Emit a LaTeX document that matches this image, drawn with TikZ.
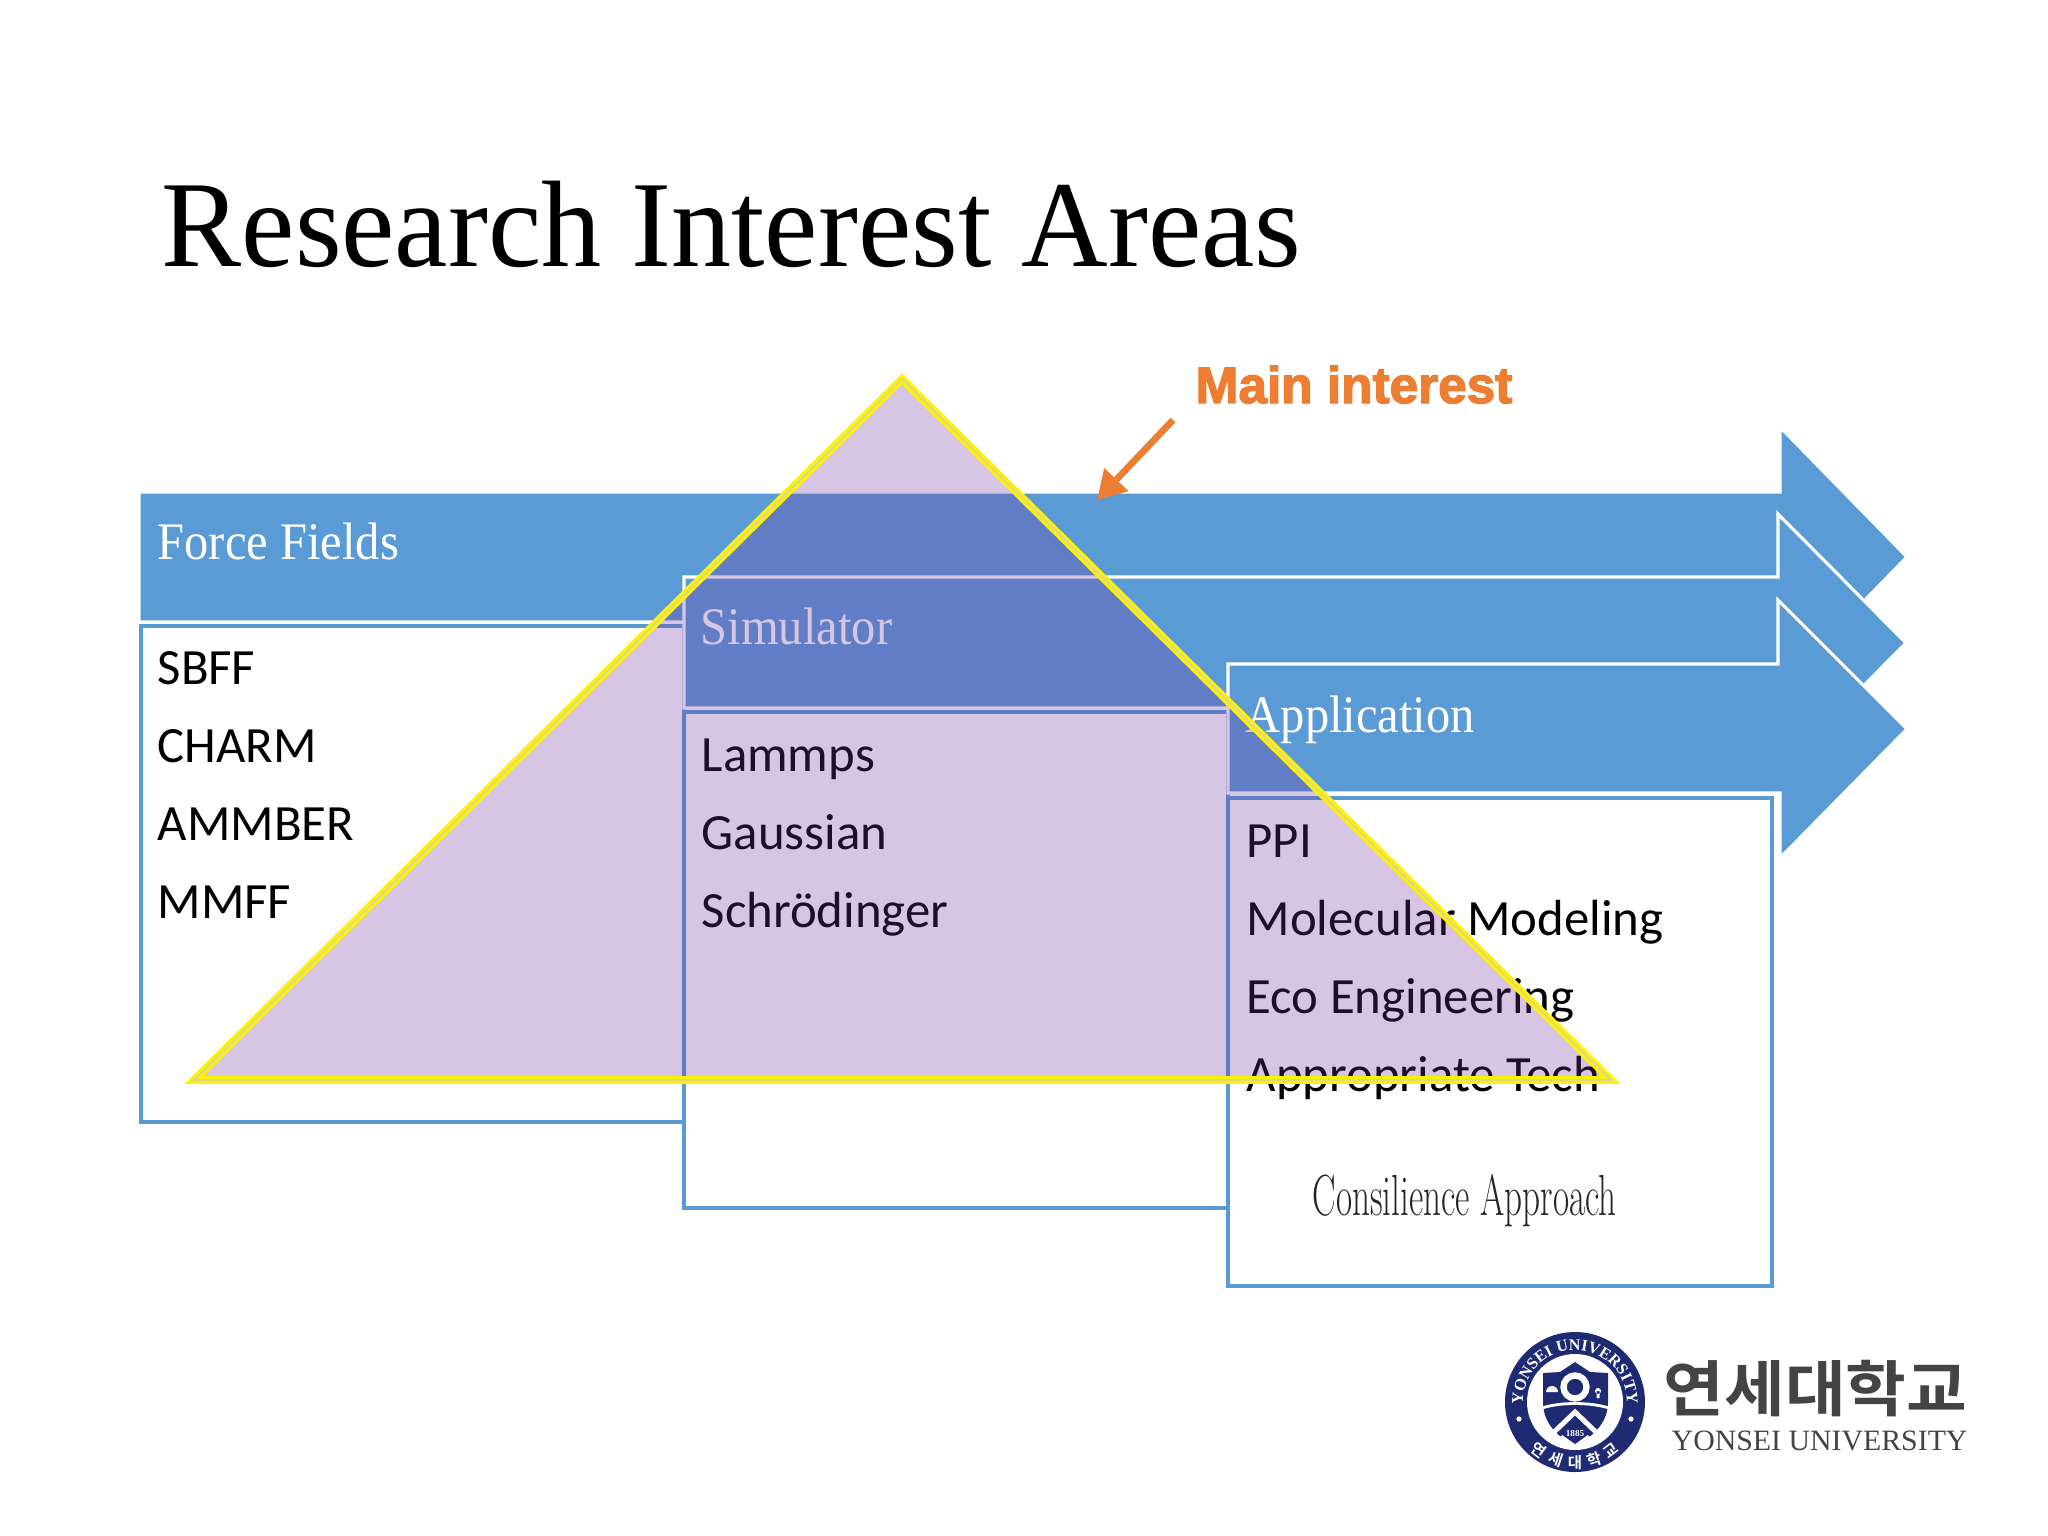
\documentclass[tikz,border=0pt]{standalone}
\usepackage{fontspec}
\usetikzlibrary{arrows.meta,decorations.text}
\setmainfont{Liberation Serif}
\newfontfamily\bodyf{Carlito}
\newfontfamily\serf{Liberation Serif}
\newfontfamily\lmf{Latin Modern Roman}
\newfontfamily\mainf[FakeBold=2.6]{Liberation Sans Bold}
\newfontfamily\krf{Noto Sans CJK KR Bold}
\newfontfamily\logof{Liberation Serif Bold}
\definecolor{arrowblue}{HTML}{5B9BD5}
\definecolor{boxline}{HTML}{5B9BD5}
\definecolor{pyr}{HTML}{7030A0}
\definecolor{mainor}{HTML}{ED7D31}
\definecolor{navy}{HTML}{1E2B73}
\definecolor{logogray}{HTML}{444444}
\definecolor{pale}{HTML}{D8D890}
\tikzset{
  bandarrow/.style={fill=arrowblue,draw=white,line width=.9pt,line join=miter},
  listbox/.style={fill=white,draw=boxline,line width=.9pt},
  headtext/.style={anchor=base west,inner sep=0pt,text=white,font=\serf\fontsize{15}{18}\selectfont},
  itemtext/.style={anchor=base west,inner sep=0pt,text=black,font=\bodyf\fontsize{14.45}{17}\selectfont},
}
\begin{document}
\begin{tikzpicture}[x=0.01cm,y=-0.01cm]
\useasboundingbox (0,0) rectangle (2048,1536);
\fill[white] (0,0) rectangle (2048,1536);
\node[anchor=base west,inner sep=0pt,text=black,font=\serf\fontsize{35}{44}\selectfont] (title) at (161,266) {\scalebox{.975}[1]{Research Interest Areas}};
% band arrows and list boxes
\draw[bandarrow] (139,492) -- (1780,492) -- (1780,427) -- (1907,557) -- (1780,687) -- (1780,622) -- (139,622) -- cycle;
\draw[listbox] (141,626) rectangle (684,1122);
\draw[bandarrow] (684,577) -- (1778,577) -- (1778,514) -- (1906,643) -- (1778,772) -- (1778,708) -- (684,708) -- cycle;
\draw[listbox] (684,712) rectangle (1228,1208);
\draw[bandarrow] (1228,664) -- (1778,664) -- (1778,600) -- (1907,729) -- (1780,858) -- (1780,793) -- (1228,793) -- cycle;
\draw[listbox] (1228,798) rectangle (1772,1286);
% texts
\node[headtext] (ff) at (157,559) {\scalebox{.92}[1]{Force Fields}};
\node[headtext] (sim) at (700,644) {\scalebox{.92}[1]{Simulator}};
\node[headtext] (app) at (1245,732) {\scalebox{.92}[1]{Application}};
\node[itemtext] (a1) at (157,684) {SBFF};
\node[itemtext] (a2) at (157,762) {CHARM};
\node[itemtext] (a3) at (157,840) {AMMBER};
\node[itemtext] (a4) at (157,918) {MMFF};
\node[itemtext] (b1) at (701,771) {Lammps};
\node[itemtext] (b2) at (701,849) {Gaussian};
\node[itemtext] (b3) at (701,927) {Schrödinger};
\node[itemtext] (c1) at (1246,857) {PPI};
\node[itemtext] (c2) at (1246,935) {Molecular Modeling};
\node[itemtext] (c3) at (1246,1013) {Eco Engineering};
\node[itemtext] (c4) at (1246,1091) {Appropriate Tech};
\node[anchor=base west,inner sep=0pt,text=black!85,font=\lmf\fontsize{16.5}{20}\selectfont] (cons) at (1312,1215) {\scalebox{.605}[1]{Consilience Approach}};
% pyramid
\fill[pyr,fill opacity=.28] (902,379) -- (194,1080) -- (1611,1080) -- cycle;
\draw[draw=yellow,line width=.85pt,double=pale,double distance=.5pt,miter limit=10] (902,379) -- (194,1080) -- (1611,1080) -- cycle;
% main interest
\node[anchor=base west,inner sep=0pt,text=mainor,font=\mainf\fontsize{14.6}{18}\selectfont] (mi) at (1195,403) {Main interest};
\coordinate (arrowstart) at (1173,420);
\coordinate (arrowend) at (1097,500);
\draw[mainor,line width=1.9pt,-{Triangle[length=8pt,width=9pt]}] (arrowstart) -- (arrowend);
% logo
\fill[navy] (1575,1402) circle (70);
\fill[white] (1575,1402) circle (48);
\path[decorate,decoration={text along path,text align=center,text={|\logof\fontsize{4.6}{6}\selectfont\color{white}|YONSEI UNIVERSITY}}]
  (1575-51.2,1402+9) arc[start angle=190,end angle=-10,x radius=52,y radius=-52];
\path[decorate,decoration={text along path,text align=center,text={|\krf\fontsize{4.4}{6}\selectfont\color{white}|연 \ 세 \ 대 \ 학 \ 교}}]
  (1575-62,1402+23) arc[start angle=200,end angle=340,x radius=66,y radius=-66];
\fill[white] (1575-56,1402+17) circle (2.6) (1575+56,1402+17) circle (2.6);
\fill[navy] (1575,1362) -- (1590,1372) -- (1608,1373) -- (1608,1402) .. controls (1608,1425) and (1590,1438) .. (1575,1446) .. controls (1560,1438) and (1543,1425) .. (1543,1402) -- (1543,1373) -- (1560,1372) -- cycle;
\draw[white,line width=.8pt] (1542,1408) .. controls (1560,1402) and (1590,1402) .. (1609,1408);
\draw[white,line width=1.8pt] (1575,1387) circle (11.5);
\draw[white,line width=1.4pt,line join=miter] (1551,1435) -- (1575,1412) -- (1599,1435);
\fill[white] (1546,1392) arc[start angle=180,end angle=0,x radius=6,y radius=-6] -- cycle;
\fill[white] (1598,1391) circle (3) (1596.5,1391) rectangle (1599.5,1398);
\fill[white] (1575,1424) -- (1560,1437) -- (1575,1447) -- (1590,1437) -- cycle;
\fill[navy] (1575,1422) -- (1561,1434) -- (1575,1444) -- (1589,1434) -- cycle;
\node[inner sep=0pt,text=white,font=\logof\fontsize{2.6}{3}\selectfont] (yr) at (1575,1433) {1885};
\node[anchor=base west,inner sep=0pt,text=logogray,font=\krf\fontsize{17.3}{20}\selectfont] (kr) at (1663,1411) {\scalebox{1.085}[1]{연세대학교}};
\node[anchor=base west,inner sep=0pt,text=logogray,font=\serf\fontsize{8.4}{10}\selectfont] (en) at (1671,1450) {\scalebox{1.01}[1]{YONSEI UNIVERSITY}};
\end{tikzpicture}
\end{document}
